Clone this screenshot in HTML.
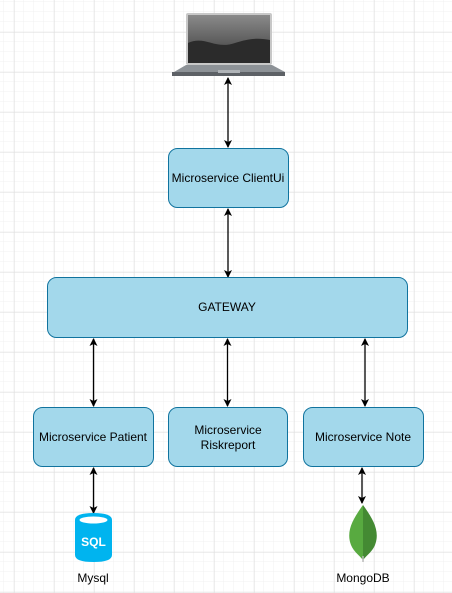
<!DOCTYPE html>
<html><head><meta charset="utf-8"><style>
html,body{margin:0;padding:0;background:#fff;}
svg{display:block;font-family:"Liberation Sans",Arial,sans-serif;}
</style></head><body>
<svg width="452" height="593" viewBox="0 0 452 593" xmlns="http://www.w3.org/2000/svg">
<defs>
<pattern id="minor" width="10" height="10" patternUnits="userSpaceOnUse" x="4" y="2">
<path d="M10 0V10M0 10H10" stroke="#f0f0f0" stroke-width="1" fill="none"/>
</pattern>
<pattern id="major" width="40" height="40" patternUnits="userSpaceOnUse" x="14.5" y="32.5">
<path d="M0 0V40M0 0H40" stroke="#dddddd" stroke-width="1" fill="none"/>
</pattern>
<marker id="ah" markerWidth="8" markerHeight="8" refX="7" refY="4" orient="auto-start-reverse" markerUnits="userSpaceOnUse">
<path d="M0 0L8 4L0 8L2 4Z" fill="#000"/>
</marker>
<linearGradient id="scr" x1="0" y1="0" x2="0" y2="1">
<stop offset="0" stop-color="#8a8a8a"/><stop offset="1" stop-color="#3a3a3a"/>
</linearGradient>
</defs>
<rect width="452" height="593" fill="#fff"/>
<rect width="452" height="593" fill="url(#minor)"/>
<rect width="452" height="593" fill="url(#major)"/>

<!-- laptop -->
<rect x="186" y="13" width="86" height="52" rx="2" fill="#c8c8c8"/>
<rect x="188" y="15" width="82" height="48" fill="url(#scr)"/>
<path d="M188 43 C205 35,215 50,235 43 C250 38,260 38,270 40 V63 H188Z" fill="#2b2b2b"/>
<path d="M174 72 L186 65 H272 L285 72 Z" fill="#8d9297"/>
<rect x="172" y="72" width="113" height="4" fill="#5d6166"/>
<rect x="218" y="70" width="22" height="3" fill="#b0b4b8"/>

<g stroke="#000" stroke-width="1.3" marker-start="url(#ah)" marker-end="url(#ah)">
<line x1="228" y1="78" x2="228" y2="147"/>
<line x1="228" y1="209" x2="228" y2="277"/>
<line x1="93.5" y1="339" x2="93.5" y2="406"/>
<line x1="227.5" y1="339" x2="227.5" y2="406"/>
<line x1="365" y1="339" x2="365" y2="406"/>
<line x1="93.5" y1="468" x2="93.5" y2="513"/>
<line x1="362" y1="468" x2="362" y2="503"/>
</g>

<g fill="#a3d8eb" stroke="#10739e" stroke-width="1">
<rect x="168.5" y="148.5" width="120" height="59" rx="9"/>
<rect x="47.5" y="277.5" width="360" height="60" rx="9"/>
<rect x="33.5" y="407.5" width="120" height="59" rx="9"/>
<rect x="168.5" y="407.5" width="119" height="59" rx="9"/>
<rect x="303.5" y="407.5" width="120" height="59" rx="9"/>
</g>
<g font-size="12" fill="#000" text-anchor="middle">
<text x="228" y="182">Microservice ClientUi</text>
<text x="227" y="311">GATEWAY</text>
<text x="93" y="441">Microservice Patient</text>
<text x="228" y="434">Microservice</text>
<text x="228" y="449">Riskreport</text>
<text x="363" y="441">Microservice Note</text>
<text x="93" y="582">Mysql</text>
<text x="363" y="582">MongoDB</text>
</g>

<!-- SQL cylinder -->
<path d="M75 520 Q75 513 93.5 513 Q112 513 112 520 V555 Q112 562 93.5 562 Q75 562 75 555 Z" fill="#00b4ef"/>
<ellipse cx="93.5" cy="520" rx="14" ry="3.5" fill="#fff"/>
<text x="93.5" y="546" font-size="12" font-weight="bold" fill="#fff" text-anchor="middle">SQL</text>

<!-- Mongo leaf -->
<path d="M363 505 C352 520,346 532,351 545 C354 552,359 555,363 560 Z" fill="#58aa40"/>
<path d="M363 505 C374 520,380 532,375 545 C372 552,367 555,363 560 Z" fill="#448a33"/>
<line x1="363" y1="556" x2="363" y2="562" stroke="#bbbbbb" stroke-width="1.5"/>
</svg>
</body></html>
